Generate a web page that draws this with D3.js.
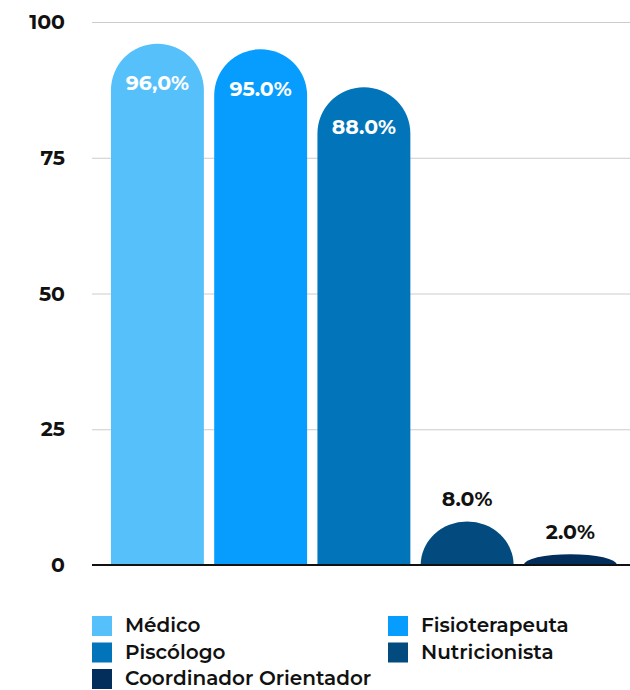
<!DOCTYPE html>
<html>
<head>
<meta charset="utf-8">
<script src="https://cdn.jsdelivr.net/npm/d3@7"></script>
<style>
  body { margin: 0; background: #fff; }
  text { font-family: "Montserrat", "Inter", "Open Sans", sans-serif; }
</style>
</head>
<body>
<div id="chart"></div>
<script>
// data
var categories = ["Médico", "Fisioterapeuta", "Psicólogo", "Nutricionista", "Coordinador Orientador"];
var values = [96, 95, 88, 8, 2];
var labels = ["96,0%", "95.0%", "88.0%", "8.0%", "2.0%"];
var legendNames = ["Médico", "Fisioterapeuta", "Piscólogo", "Nutricionista", "Coordinador Orientador"];
var colors = ["#56c0fb", "#069dfe", "#0274b9", "#034b7f", "#032d5a"];
var yTicks = [0, 25, 50, 75, 100];

var width = 630, height = 690;

var svg = d3.select("#chart").append("svg")
    .attr("width", width)
    .attr("height", height);

// scales
var x = d3.scaleBand().domain(categories).range([105.8, 622]).paddingInner(0.1).paddingOuter(0.05);
var y = d3.scaleLinear().domain([0, 100]).range([565, 22]);

// gridlines + tick labels
var yAxis = d3.axisLeft(y).tickValues(yTicks).tickSize(-(width - 92)).tickPadding(27);
var gy = svg.append("g")
    .attr("transform", "translate(92,0)")
    .call(yAxis);
gy.select(".domain").remove();
gy.selectAll(".tick line").attr("stroke", "#cccccc").attr("stroke-width", 1);
gy.selectAll(".tick text")
    .attr("fill", "#111")
    .style("font-size", "20.5px")
    .style("font-weight", "700");

// bars with rounded tops
function barPath(d, i) {
    var x0 = x(categories[i]), w = x.bandwidth();
    var base = y(0), top = y(d);
    var h = base - top, r = w / 2, ry = Math.min(r, h);
    return "M" + x0 + "," + base +
        "L" + x0 + "," + (top + ry) +
        "A" + r + "," + ry + " 0 0 1 " + (x0 + w) + "," + (top + ry) +
        "L" + (x0 + w) + "," + base + "Z";
}

svg.selectAll("path.bar")
    .data(values)
    .enter()
    .append("path")
    .attr("class", "bar")
    .attr("d", barPath)
    .attr("fill", function(d, i) { return colors[i]; });

// value labels
svg.selectAll("text.val")
    .data(values)
    .enter()
    .append("text")
    .attr("class", "val")
    .attr("x", function(d, i) { return x(categories[i]) + x.bandwidth() / 2; })
    .attr("y", function(d) { return d > 20 ? y(d) + 41 : y(d) - 21; })
    .attr("text-anchor", "middle")
    .attr("dominant-baseline", "middle")
    .attr("fill", function(d) { return d > 20 ? "#fff" : "#111"; })
    .style("font-size", "20.5px")
    .style("font-weight", "700")
    .text(function(d, i) { return labels[i]; });

// baseline
svg.append("line")
    .attr("x1", 92).attr("x2", width)
    .attr("y1", y(0)).attr("y2", y(0))
    .attr("stroke", "#111").attr("stroke-width", 2);

// legend (two columns, row-major)
var legend = svg.selectAll("g.leg")
    .data(legendNames)
    .enter()
    .append("g")
    .attr("class", "leg")
    .attr("transform", function(d, i) {
        var col = i % 2, row = Math.floor(i / 2);
        return "translate(" + (col ? 388 : 92) + "," + (616 + row * 26.5) + ")";
    });

legend.append("rect")
    .attr("width", 20).attr("height", 20)
    .attr("fill", function(d, i) { return colors[i]; });

legend.append("text")
    .attr("x", 33).attr("y", 11)
    .attr("dominant-baseline", "middle")
    .attr("fill", "#111")
    .style("font-size", "20px")
    .style("font-weight", "600")
    .text(function(d) { return d; });
</script>
</body>
</html>
